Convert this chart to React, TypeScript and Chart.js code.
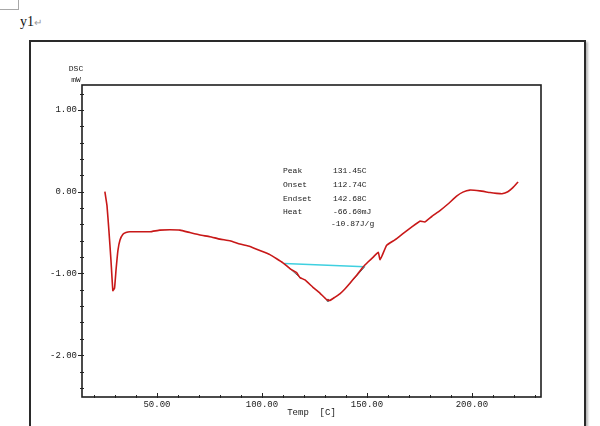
import React, { useEffect, useRef } from "react";
import { Chart, registerables } from "chart.js";

Chart.register(...registerables);

// ---- data ----
const tempC = [
  25.2, 26.2, 27.1, 28.1, 29.0, 29.8, 30.5, 31.4, 32.4, 33.8, 35.2, 37.1, 41.9, 46.7,
  51.4, 56.2, 61.0, 65.7, 70.5, 75.2, 80.0, 84.8, 89.5, 94.3, 99.0, 103.8, 107.0,
  110.0, 113.3, 116.5, 118.1, 120.5, 124.3, 127.6, 130.8, 132.4, 134.8, 137.1, 139.5,
  141.9, 144.8, 148.2, 150.5, 153.0, 155.4, 156.2, 157.1, 159.4, 163.3, 167.3, 171.4,
  175.2, 177.6, 181.0, 184.8, 188.6, 192.7, 195.7, 199.0, 203.8, 208.6, 211.8, 214.3,
  217.1, 219.5, 222.0,
];
const dscMW = [
  0.0, -0.17, -0.47, -0.84, -1.21, -1.18, -0.96, -0.72, -0.59, -0.52, -0.5, -0.49, -0.49,
  -0.49, -0.47, -0.465, -0.47, -0.5, -0.53, -0.55, -0.58, -0.6, -0.64, -0.67, -0.72,
  -0.77, -0.82, -0.87, -0.94, -0.99, -1.05, -1.08, -1.17, -1.24, -1.32, -1.33, -1.29,
  -1.25, -1.19, -1.12, -1.03, -0.92, -0.86, -0.8, -0.74, -0.83, -0.79, -0.655, -0.59,
  -0.51, -0.43, -0.36, -0.37, -0.3, -0.23, -0.15, -0.055, -0.005, 0.02, 0.01, -0.01,
  -0.02, -0.025, 0.0, 0.05, 0.12,
];
const baselineT = [110.6, 149.0];
const baselineY = [-0.878, -0.918];
const onsetTanT = [110.6, 118.5];
const onsetTanY = [-0.878, -1.06];
const endsetTanT = [141.6, 149.0];
const endsetTanY = [-1.13, -0.918];
const peakT = [131.45];
const peakY = [-1.33];

const xMajorTicks = [50, 100, 150, 200];
const yMajorTicks = [1, 0, -1, -2];
const xRange = [14.3, 232.9];
const yRange = [-2.512, 1.306];

const yTitleLines = ["DSC", "mW"];
const xTitle = "Temp  [C]";
const resultLabels = ["Peak", "Onset", "Endset", "Heat", ""];
const resultValues = ["131.45C", "112.74C", "142.68C", "-66.60mJ", "-10.87J/g"];

const pts = (xs: number[], ys: number[]) => xs.map((x, i) => ({ x, y: ys[i] }));
const isMajor = (v: number, list: number[]) => list.some((m) => Math.abs(m - v) < 1e-6);

const MONO = '"Liberation Mono", "DejaVu Sans Mono", monospace';

const decorPlugin = {
  id: "decor",
  afterDraw(chart: any) {
    const { ctx, chartArea: a, scales } = chart;
    const xs = scales.x;
    const ys = scales.y;
    ctx.save();
    // plot frame
    ctx.strokeStyle = "#1e1e1e";
    ctx.lineWidth = 1.6;
    ctx.strokeRect(a.left, a.top, a.right - a.left, a.bottom - a.top);
    // ticks
    ctx.lineWidth = 1;
    ctx.strokeStyle = "#222";
    ctx.beginPath();
    xs.ticks.forEach((t: any) => {
      const p = Math.round(xs.getPixelForValue(t.value)) + 0.5;
      const major = isMajor(t.value, xMajorTicks);
      ctx.moveTo(p, a.bottom - (major ? 4 : 2));
      ctx.lineTo(p, a.bottom + 1);
    });
    ys.ticks.forEach((t: any) => {
      const p = Math.round(ys.getPixelForValue(t.value)) + 0.5;
      const major = isMajor(t.value, yMajorTicks);
      ctx.moveTo(a.left - (major ? 4 : 2), p);
      ctx.lineTo(a.left + 2, p);
    });
    ctx.stroke();
    // axis titles
    ctx.fillStyle = "#1a1a1a";
    ctx.font = `8px ${MONO}`;
    ctx.textAlign = "center";
    ctx.textBaseline = "middle";
    yTitleLines.forEach((s, i) => ctx.fillText(s, a.left - 6, a.top - 16 + i * 11));
    ctx.font = `9px ${MONO}`;
    ctx.fillText(xTitle, (a.left + a.right) / 2, a.bottom + 16);
    // results block
    ctx.font = `8px ${MONO}`;
    ctx.textAlign = "left";
    const rowY = [171, 185, 198.5, 211.5, 223.5];
    resultLabels.forEach((s, i) => {
      if (s) ctx.fillText(s, 283, rowY[i]);
      ctx.fillText(resultValues[i], i === 4 ? 331 : 333, rowY[i]);
    });
    ctx.restore();
  },
};

export default function App() {
  const ref = useRef<HTMLCanvasElement | null>(null);

  useEffect(() => {
    if (!ref.current) return;
    const chart = new Chart(ref.current, {
      type: "line",
      data: {
        datasets: [
          {
            data: pts(tempC, dscMW),
            borderColor: "#c81818",
            borderWidth: 1.6,
            pointRadius: 0,
            tension: 0.1,
          },
          {
            data: pts(baselineT, baselineY),
            borderColor: "#3fd0e0",
            borderWidth: 1.5,
            pointRadius: 0,
          },
          {
            data: pts(onsetTanT, onsetTanY),
            borderColor: "#5a6a6a",
            borderWidth: 1,
            pointRadius: 0,
          },
          {
            data: pts(endsetTanT, endsetTanY),
            borderColor: "#5a6a6a",
            borderWidth: 1,
            pointRadius: 0,
          },
          {
            data: pts(peakT, peakY),
            borderColor: "#707878",
            backgroundColor: "#707878",
            pointRadius: 1.2,
            showLine: false,
          },
        ],
      },
      options: {
        animation: false,
        responsive: false,
        events: [],
        layout: { padding: { left: 0, top: 85, right: 59, bottom: 0 } },
        plugins: { legend: { display: false }, tooltip: { enabled: false }, title: { display: false } },
        scales: {
          x: {
            type: "linear",
            min: xRange[0],
            max: xRange[1],
            border: { display: false },
            grid: { display: false, drawTicks: false },
            ticks: {
              stepSize: 10,
              includeBounds: false,
              autoSkip: false,
              maxRotation: 0,
              minRotation: 0,
              padding: 2,
              color: "#1a1a1a",
              font: { family: MONO, size: 9 },
              callback: (v: any) => (isMajor(Number(v), xMajorTicks) ? Number(v).toFixed(2) : ""),
            },
            afterFit: (s: any) => {
              s.height = 29;
            },
          },
          y: {
            type: "linear",
            min: yRange[0],
            max: yRange[1],
            border: { display: false },
            grid: { display: false, drawTicks: false },
            ticks: {
              stepSize: 0.2,
              includeBounds: false,
              autoSkip: false,
              padding: 5,
              color: "#1a1a1a",
              font: { family: MONO, size: 9 },
              callback: (v: any) => (isMajor(Number(v), yMajorTicks) ? Math.abs(Number(v)) < 1e-9 ? "0.00" : Number(v).toFixed(2) : ""),
            },
            afterFit: (s: any) => {
              s.width = 82;
            },
          },
        },
      },
      plugins: [decorPlugin],
    });
    return () => chart.destroy();
  }, []);

  return (
    <div
      style={{
        position: "fixed",
        left: 0,
        top: 0,
        width: 600,
        height: 426,
        background: "#fff",
        overflow: "hidden",
      }}
    >
      <div
        style={{
          position: "absolute",
          left: -1,
          top: -1,
          width: 19,
          height: 10,
          borderRight: "1px solid #a8a8a8",
          borderBottom: "1px solid #a8a8a8",
        }}
      />
      <div
        style={{
          position: "absolute",
          left: 20,
          top: 14,
          font: '14px "Liberation Serif", serif',
          lineHeight: "16px",
          color: "#111",
          whiteSpace: "nowrap",
        }}
      >
        y1<span style={{ color: "#9a9a9a", fontSize: 10 }}>↵</span>
      </div>
      <div
        style={{
          position: "absolute",
          left: 29,
          top: 40,
          width: 553,
          height: 420,
          border: "2px solid #2a2a2a",
          boxShadow: "2px 2px 2px #b8b8b8",
        }}
      />
      <canvas
        ref={ref}
        width={600}
        height={426}
        style={{ position: "absolute", left: 0, top: 0, display: "block" }}
      />
    </div>
  );
}
